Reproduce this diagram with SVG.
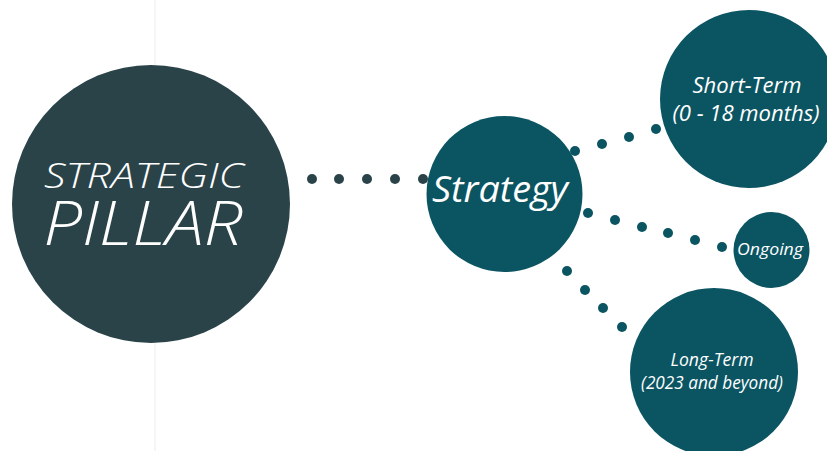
<svg xmlns="http://www.w3.org/2000/svg" width="827" height="451" viewBox="0 0 827 451">
<style>
.bg{fill:#ffffff}
.pillar{fill:#2a4349}
.node{fill:#0b5563}
.dot{fill:#2a4349}
.dot2{fill:#0b5563}
text{fill:#ffffff;font-family:"Open Sans","Noto Sans",sans-serif;font-style:italic;text-anchor:middle}
</style>
<rect class="bg" x="0" y="0" width="827" height="451"/>
<line x1="155" y1="0" x2="155" y2="451" stroke="#ececec" stroke-width="1"/>
<g id="connectors">
  <circle class="dot" cx="312" cy="179" r="5"/>
  <circle class="dot" cx="339" cy="179" r="5"/>
  <circle class="dot" cx="367" cy="179" r="5"/>
  <circle class="dot" cx="395" cy="179" r="5"/>
  <circle class="dot" cx="423" cy="179" r="5"/>
  <circle class="dot2" cx="575" cy="151" r="5"/>
  <circle class="dot2" cx="602" cy="144" r="5"/>
  <circle class="dot2" cx="629" cy="137" r="5"/>
  <circle class="dot2" cx="656" cy="129" r="5"/>
  <circle class="dot2" cx="588" cy="213" r="5"/>
  <circle class="dot2" cx="615" cy="220" r="5"/>
  <circle class="dot2" cx="642" cy="227" r="5"/>
  <circle class="dot2" cx="668" cy="233" r="5"/>
  <circle class="dot2" cx="695" cy="240" r="5"/>
  <circle class="dot2" cx="722" cy="247" r="5"/>
  <circle class="dot2" cx="567" cy="271" r="5"/>
  <circle class="dot2" cx="585" cy="290" r="5"/>
  <circle class="dot2" cx="603" cy="308" r="5"/>
  <circle class="dot2" cx="622" cy="327" r="5"/>
</g>
<g id="strategic-pillar">
  <circle class="pillar" cx="151" cy="204" r="139"/>
  <text x="144" y="188" font-size="35" font-weight="300" textLength="200" lengthAdjust="spacingAndGlyphs">STRATEGIC</text>
  <text x="143" y="245" font-size="60" font-weight="300" textLength="199" lengthAdjust="spacingAndGlyphs">PILLAR</text>
</g>
<g id="strategy">
  <circle class="node" cx="504.5" cy="194" r="78"/>
  <text x="500" y="202" font-size="37" textLength="136" lengthAdjust="spacingAndGlyphs">Strategy</text>
</g>
<g id="short-term">
  <circle class="node" cx="749" cy="99" r="89"/>
  <text x="747" y="93" font-size="21" textLength="109" lengthAdjust="spacingAndGlyphs">Short-Term</text>
  <text x="746" y="121" font-size="21" textLength="147" lengthAdjust="spacingAndGlyphs">(0 - 18 months)</text>
</g>
<g id="ongoing">
  <circle class="node" cx="771.5" cy="250" r="38"/>
  <text x="770" y="255" font-size="17" textLength="66" lengthAdjust="spacingAndGlyphs">Ongoing</text>
</g>
<g id="long-term">
  <circle class="node" cx="714" cy="372" r="84"/>
  <text x="712" y="366" font-size="18" textLength="83" lengthAdjust="spacingAndGlyphs">Long-Term</text>
  <text x="712" y="389" font-size="18" textLength="142" lengthAdjust="spacingAndGlyphs">(2023 and beyond)</text>
</g>
</svg>
